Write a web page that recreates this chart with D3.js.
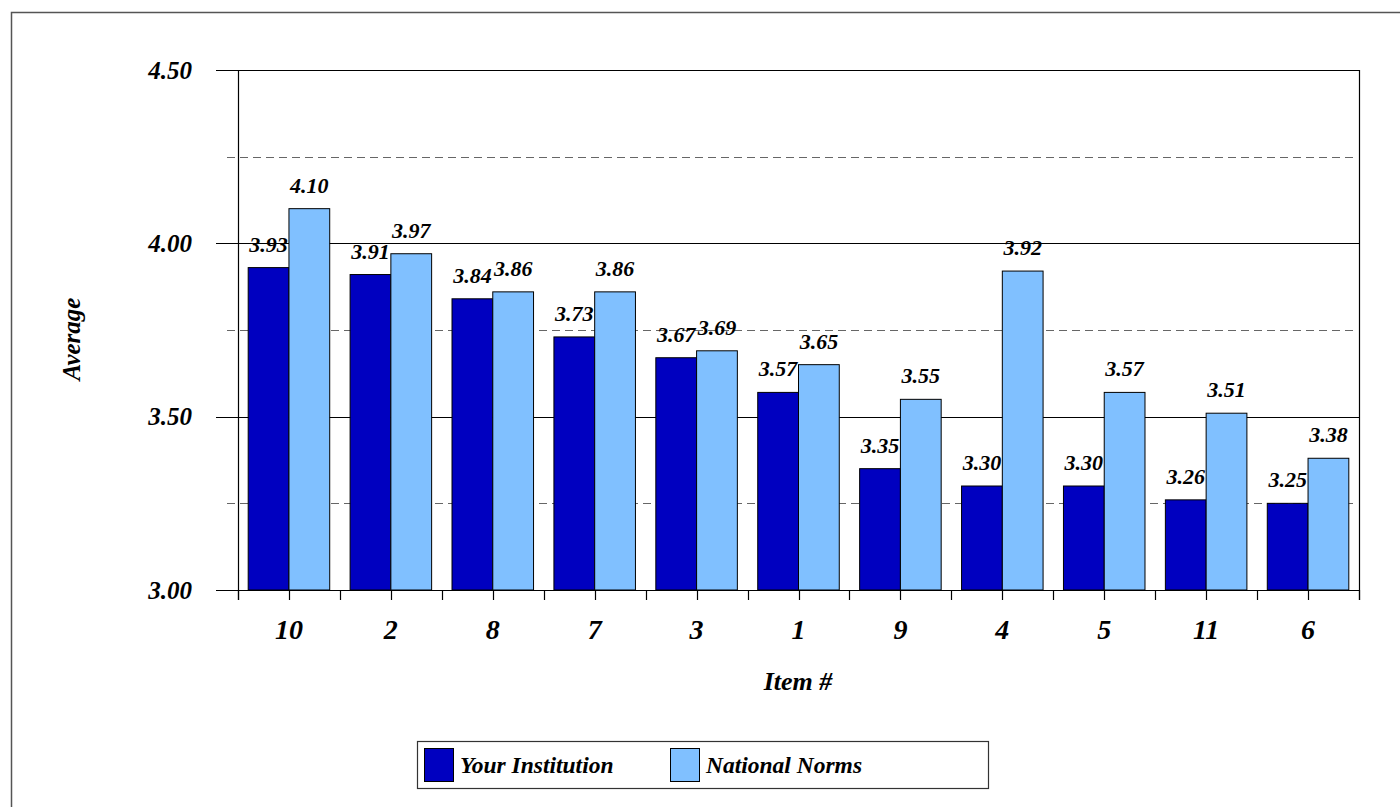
<!DOCTYPE html>
<html>
<head>
<meta charset="utf-8">
<script src="https://cdn.jsdelivr.net/npm/d3@7/dist/d3.min.js"></script>
<style>
  html, body { margin: 0; padding: 0; background: #fff; }
  svg { display: block; }
  svg text { font-family: 'Liberation Serif', 'Times New Roman', serif; font-weight: 700; font-style: italic; fill: #000; }
</style>
</head>
<body>
<svg id="chart" width="1400" height="807"></svg>
<script>
// Item numbers in display order
const items = ["10", "2", "8", "7", "3", "1", "9", "4", "5", "11", "6"];
// Average score per item
const yourInstitution = [3.93, 3.91, 3.84, 3.73, 3.67, 3.57, 3.35, 3.30, 3.30, 3.26, 3.25];
const nationalNorms   = [4.10, 3.97, 3.86, 3.86, 3.69, 3.65, 3.55, 3.92, 3.57, 3.51, 3.38];
const seriesNames = ["Your Institution", "National Norms"];
const majorTicks = [3.00, 3.50, 4.00, 4.50];
const minorTicks = [3.25, 3.75, 4.25];

const colors = ["#0000C0", "#80C0FF"];

const svg = d3.select("#chart");
const plot = { left: 238, right: 1359, top: 70, bottom: 590 };

// outer chart frame
svg.append("rect")
  .attr("x", 11.5).attr("y", 12.5)
  .attr("width", 1400).attr("height", 820)
  .attr("fill", "none").attr("stroke", "#555").attr("stroke-width", 1.5);

const y = d3.scaleLinear().domain([3.0, 4.5]).range([plot.bottom, plot.top]);
const x = d3.scaleBand().domain(items).range([plot.left, plot.right]).paddingInner(0.2).paddingOuter(0.1);
const xs = d3.scaleBand().domain([0, 1]).range([0, x.bandwidth()]);
const xOuter = d3.scaleBand().domain(items).range([plot.left, plot.right]);

// dashed minor gridlines
svg.append("g").selectAll("line").data(minorTicks).join("line")
  .attr("x1", plot.left - 11).attr("x2", plot.right - 6)
  .attr("y1", d => Math.round(y(d)) + 0.5).attr("y2", d => Math.round(y(d)) + 0.5)
  .attr("stroke", "#666").attr("stroke-width", 1.2).attr("stroke-dasharray", "8,5");

// solid major gridlines + left ticks
svg.append("g").selectAll("line").data(majorTicks).join("line")
  .attr("x1", plot.left - 22).attr("x2", plot.right)
  .attr("y1", d => Math.round(y(d)) + 0.5).attr("y2", d => Math.round(y(d)) + 0.5)
  .attr("stroke", "#000").attr("stroke-width", 1.2);

// plot frame left / right
svg.append("line").attr("x1", plot.left + 0.5).attr("x2", plot.left + 0.5)
  .attr("y1", plot.top).attr("y2", plot.bottom + 10).attr("stroke", "#000").attr("stroke-width", 1.2);
svg.append("line").attr("x1", plot.right + 0.5).attr("x2", plot.right + 0.5)
  .attr("y1", plot.top).attr("y2", plot.bottom + 10).attr("stroke", "#000").attr("stroke-width", 1.2);

// y tick labels
svg.append("g").selectAll("text").data(majorTicks).join("text")
  .attr("x", 192).attr("y", d => y(d))
  .attr("dy", "0.35em").attr("text-anchor", "end")
  .style("font-size", "25px")
  .text(d => d3.format(".2f")(d));

// bars
const series = [yourInstitution, nationalNorms];
const groups = svg.append("g").selectAll("g").data(items).join("g")
  .attr("transform", d => `translate(${x(d)},0)`);

groups.selectAll("rect").data((d, i) => series.map((s, k) => ({ k, v: s[i] }))).join("rect")
  .attr("x", d => xs(d.k))
  .attr("y", d => y(d.v))
  .attr("width", xs.bandwidth())
  .attr("height", d => y(3.0) - y(d.v))
  .attr("fill", d => colors[d.k])
  .attr("stroke", "#000").attr("stroke-width", 1);

// value labels
groups.selectAll("text").data((d, i) => series.map((s, k) => ({ k, v: s[i] }))).join("text")
  .attr("x", d => xs(d.k) + xs.bandwidth() / 2)
  .attr("y", d => y(d.v) - 16)
  .attr("text-anchor", "middle")
  .style("font-size", "22px")
  .text(d => d3.format(".2f")(d.v));

// x axis line and ticks (group edges and centres)
svg.append("line").attr("x1", plot.left - 22).attr("x2", plot.right)
  .attr("y1", plot.bottom + 0.5).attr("y2", plot.bottom + 0.5).attr("stroke", "#000").attr("stroke-width", 1.2);
const tickXs = [];
items.forEach(d => { tickXs.push(xOuter(d)); tickXs.push(xOuter(d) + xOuter.bandwidth() / 2); });
tickXs.push(plot.right);
svg.append("g").selectAll("line").data(tickXs).join("line")
  .attr("x1", d => Math.round(d) + 0.5).attr("x2", d => Math.round(d) + 0.5)
  .attr("y1", plot.bottom).attr("y2", plot.bottom + 10)
  .attr("stroke", "#000").attr("stroke-width", 1.2);

// x tick labels
svg.append("g").selectAll("text").data(items).join("text")
  .attr("x", d => xOuter(d) + xOuter.bandwidth() / 2)
  .attr("y", 639)
  .attr("text-anchor", "middle")
  .style("font-size", "28px")
  .text(d => d);

// axis titles
svg.append("text").attr("x", 798).attr("y", 690).attr("text-anchor", "middle")
  .style("font-size", "26px").text("Item #");
svg.append("text").attr("transform", "translate(80,339) rotate(-90)").attr("text-anchor", "middle")
  .style("font-size", "25px").text("Average");

// legend
const legend = svg.append("g").attr("transform", "translate(417,741)");
legend.append("rect").attr("x", 0.5).attr("y", 0.5).attr("width", 571).attr("height", 47)
  .attr("fill", "#fff").attr("stroke", "#333").attr("stroke-width", 1.2);
const legendX = [7, 253];
seriesNames.forEach((name, k) => {
  legend.append("rect").attr("x", legendX[k] + 0.5).attr("y", 7.5).attr("width", 29).attr("height", 33)
    .attr("fill", colors[k]).attr("stroke", "#000").attr("stroke-width", 1);
  legend.append("text").attr("x", legendX[k] + 36).attr("y", 32)
    .style("font-size", "23.5px").text(name);
});
</script>
</body>
</html>
